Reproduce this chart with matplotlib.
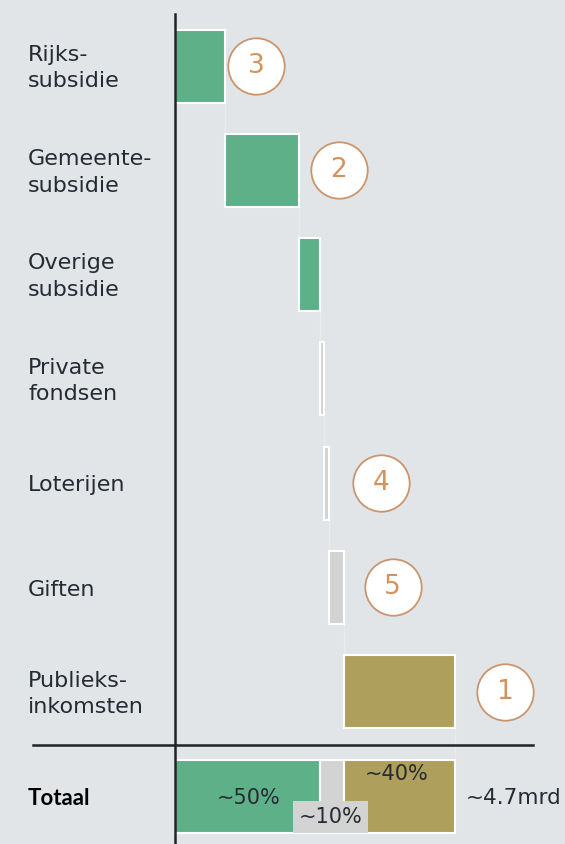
import matplotlib
matplotlib.use("Agg")
import matplotlib.pyplot as plt

# data (mrd euro)
categories = ["Rijks-\nsubsidie", "Gemeente-\nsubsidie", "Overige\nsubsidie",
              "Private\nfondsen", "Loterijen", "Giften", "Publieks-\ninkomsten"]
values = [0.84, 1.24, 0.35, 0.07, 0.08, 0.25, 1.86]
kleuren = ["#5db088", "#5db088", "#5db088", "#d3d3d3", "#d3d3d3", "#d3d3d3", "#ae9f5c"]
rang = {0: "3", 1: "2", 4: "4", 5: "5", 6: "1"}
rang_offset = {0: 0.52, 1: 0.66, 4: 0.87, 5: 0.82, 6: 0.84}

totaal_label = "Totaal"
totaal_delen = [2.43, 0.40, 1.86]
totaal_pct = ["~50%", "~10%", "~40%"]
totaal_tekst = "~4.7mrd"

bg = "#e2e5e8"
tekst = "#262a33"
plt.rcParams['font.family'] = ['DejaVu Sans']

fig = plt.figure(figsize=(5.65, 8.44), dpi=100, facecolor=bg)
ax = fig.add_axes([0, 0, 1, 1], facecolor=bg)
ax.set_xlim(-2.94, 6.54)
ax.set_ylim(7.46, -0.633)
ax.axis("off")

h = 0.70
start = 0
for i, v in enumerate(values):
    ax.barh(i, v, left=start, height=h, color=kleuren[i], edgecolor="white", linewidth=1.5, zorder=3)
    # verbindingslijn naar volgende balk
    ax.plot([start + v, start + v], [i + h / 2, i + 1 - h / 2], color="#ebebeb", lw=1, zorder=2)
    ax.text(-2.47, i + 0.02, categories[i], ha="left", va="center", fontsize=16, color=tekst, linespacing=1.4)
    if i in rang:
        cx = start + v + rang_offset[i]
        ax.scatter([cx], [i], s=1650, facecolor="white", edgecolor="#c9956c", linewidth=1.3, zorder=4)
        ax.text(cx, i, rang[i], ha="center", va="center", fontsize=19, color="#d4935c", zorder=5)
    start += v

# totaal balk
t = len(values)
links = 0
tkleur = ["#5db088", "#d3d3d3", "#ae9f5c"]
for j, d in enumerate(totaal_delen):
    ax.barh(t, d, left=links, height=h, color=tkleur[j], edgecolor="white", linewidth=1.5, zorder=3)
    links += d
ax.text(totaal_delen[0] / 2 + 0.02, t + 0.02, totaal_pct[0], ha="center", va="center", fontsize=15, color=tekst, zorder=5)
ax.text(totaal_delen[0] + totaal_delen[1] / 2 - 0.02, t + 0.2, totaal_pct[1], ha="center", va="center", fontsize=15,
        color=tekst, zorder=5, bbox=dict(facecolor="#d3d3d3", edgecolor="none", pad=4))
ax.text(totaal_delen[0] + totaal_delen[1] + totaal_delen[2] / 2 - 0.05, t - 0.21, totaal_pct[2], ha="center",
        va="center", fontsize=15, color=tekst, zorder=5)
ax.text(links + 0.18, t + 0.02, totaal_tekst, ha="left", va="center", fontsize=15.5, color=tekst)
ax.text(-2.47, t + 0.02, totaal_label, ha="left", va="center", fontsize=16, fontweight="bold",
        color="black", family=['Lato', 'DejaVu Sans'])

# assen
ax.plot([0, 0], [-0.5, 7.5], color="#222222", lw=1.8, zorder=6, clip_on=False)
ax.plot([-2.38, 6.0], [6.51, 6.51], color="#222222", lw=1.8, zorder=6)

fig.savefig("out.png", dpi=100, facecolor=bg)
